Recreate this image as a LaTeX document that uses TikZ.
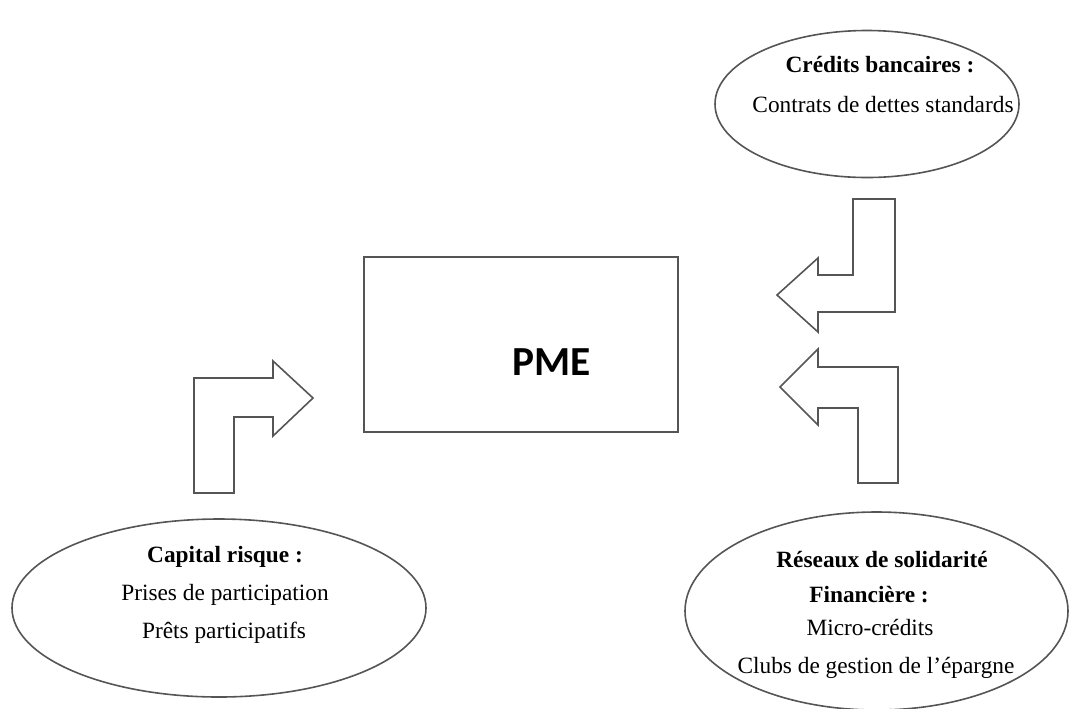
\documentclass[tikz,border=0pt]{standalone}
\usepackage{fontspec}
\setmainfont{Liberation Serif}
\newfontfamily\pmefont{Carlito}
\usetikzlibrary{shapes.geometric}

\definecolor{linegray}{RGB}{85,85,85}
\tikzset{every picture/.style={line width=0.75pt}}
\tikzset{
  source/.style={draw=linegray, line width=1.2pt, ellipse, inner sep=0pt},
  blockarrow/.style={draw=linegray, line width=1.2pt, fill=white, line join=miter},
  srctext/.style={anchor=base, inner sep=0.75pt, font=\fontsize{17.5}{21}\selectfont},
  srchead/.style={srctext, font=\fontsize{17.5}{21}\selectfont\bfseries}
}

\begin{document}
\begin{tikzpicture}[x=0.75pt,y=0.75pt,yscale=-1,xscale=1]
\useasboundingbox (0,0) rectangle (1069,708);

%Shape: Rectangle
\node [draw=linegray, line width=1.2pt, minimum width=235.5pt, minimum height=131.25pt, inner sep=0pt] (pme) at (521,344.5) {};
% Text Node
\node [inner sep=0pt, font=\pmefont\fontsize{31}{36}\selectfont\bfseries] (pmetext) at (552,362) {PME};

%Shape: Ellipse
\node [source, minimum width=228pt, minimum height=110.25pt] (bancaires) at (867,104) {};
%Shape: Ellipse
\node [source, minimum width=310.5pt, minimum height=133.5pt] (capital) at (219,608) {};
%Shape: Ellipse
\node [source, minimum width=287.25pt, minimum height=148.5pt] (reseaux) at (876.5,611) {};

% Text Node
\node [srchead] (bancaires-h) at (880,72) {Crédits bancaires :};
\node [srctext] (bancaires-a) at (883,112) {Contrats de dettes standards};
% Text Node
\node [srchead] (capital-h) at (225,562) {Capital risque :};
\node [srctext] (capital-a) at (225,600) {Prises de participation};
\node [srctext] (capital-b) at (224,638) {Prêts participatifs};
% Text Node
\node [srchead] (reseaux-h) at (882,567) {Réseaux de solidarité};
\node [srchead] (reseaux-h2) at (869,602) {Financière :};
\node [srctext] (reseaux-a) at (870,635) {Micro-crédits};
\node [srctext] (reseaux-b) at (876,673) {Clubs de gestion de l'épargne};

%Shape: Bent Arrow (capital risque)
\draw [blockarrow] (194,493) -- (194,378) -- (273,378) -- (273,361) -- (313,398) -- (273,436) -- (273,417) -- (234,417) -- (234,493) -- cycle ;
%Shape: Bent Arrow (credits bancaires)
\draw [blockarrow] (853,199) -- (895,199) -- (895,312) -- (818,312) -- (818,332) -- (777,295) -- (818,258) -- (818,275) -- (853,275) -- cycle ;
%Shape: Bent Arrow (reseaux)
\draw [blockarrow] (780,387) -- (818,349) -- (818,367) -- (898,367) -- (898,483) -- (858,483) -- (858,408) -- (818,408) -- (818,425) -- cycle ;
\end{tikzpicture}
\end{document}
